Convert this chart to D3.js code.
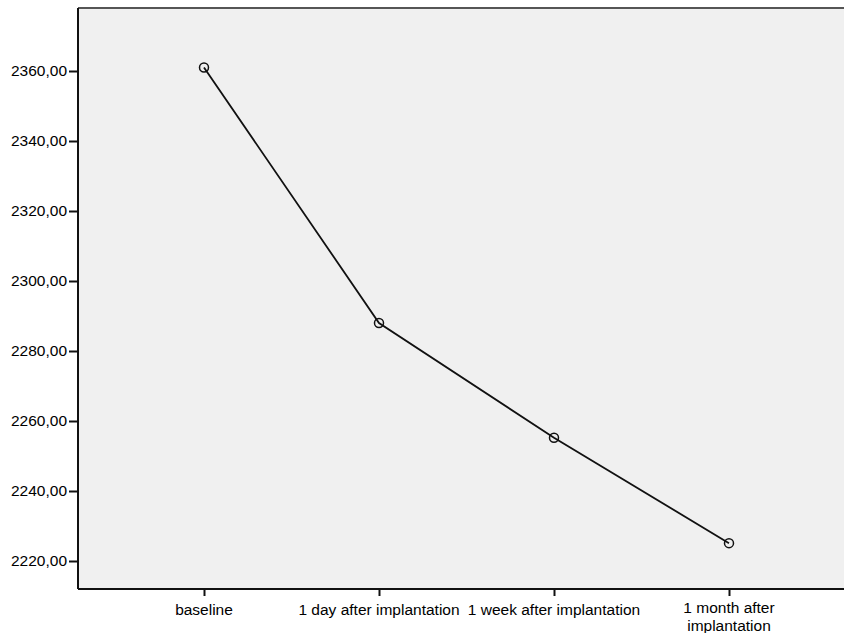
<!DOCTYPE html>
<html>
<head>
<meta charset="utf-8">
<script src="https://cdn.jsdelivr.net/npm/d3@7"></script>
<style>
  body { margin: 0; background: #fff; }
  svg { display: block; font-family: "Liberation Sans", Arial, sans-serif; }
</style>
</head>
<body>
<svg id="chart"></svg>
<script>
// Data: mean value at each time point
const categories = ["baseline", "1 day after implantation", "1 week after implantation", "1 month after implantation"];
const values = [2361, 2288, 2255.2, 2225.1];
// Tick labels as shown (last one wraps onto two lines)
const tickLabels = [["baseline"], ["1 day after implantation"], ["1 week after implantation"], ["1 month after", "implantation"]];
const yTicks = [2220, 2240, 2260, 2280, 2300, 2320, 2340, 2360];

const W = 844, H = 633;
const plot = { left: 78, top: 8, right: 855, bottom: 589 };

const svg = d3.select("#chart").attr("width", W).attr("height", H);

const x = d3.scalePoint().domain(categories).range([plot.left, plot.right]).padding(0.72);
const y = d3.scaleLinear().domain([2212, 2378]).range([plot.bottom, plot.top]);

// Plot background
svg.append("rect")
    .attr("x", plot.left).attr("y", plot.top)
    .attr("width", plot.right - plot.left).attr("height", plot.bottom - plot.top)
    .attr("fill", "#f0f0f0");

// Top frame line
svg.append("line")
    .attr("x1", plot.left).attr("x2", plot.right)
    .attr("y1", plot.top).attr("y2", plot.top)
    .attr("stroke", "#555").attr("stroke-width", 2);

// Y axis
const yAxis = svg.append("g")
    .attr("transform", `translate(${plot.left},0)`)
    .call(d3.axisLeft(y).tickValues(yTicks).tickSize(9).tickPadding(2)
        .tickFormat(d => d3.format(".2f")(d).replace(".", ",")));
yAxis.select(".domain").attr("stroke", "#111").attr("stroke-width", 2)
    .attr("d", `M0,${plot.top}V${plot.bottom}`);
yAxis.selectAll(".tick line").attr("stroke", "#111").attr("stroke-width", 2);
yAxis.selectAll(".tick text").attr("font-size", 15.5).attr("fill", "#000")
    .attr("font-family", "Liberation Sans, Arial, sans-serif");

// X axis
const xAxis = svg.append("g")
    .attr("transform", `translate(0,${plot.bottom})`)
    .call(d3.axisBottom(x).tickSize(7).tickFormat(""));
xAxis.select(".domain").attr("stroke", "#111").attr("stroke-width", 2)
    .attr("d", `M${plot.left},0H${plot.right}`);
xAxis.selectAll(".tick line").attr("stroke", "#111").attr("stroke-width", 2);

// Category labels; wrapped labels start a little higher so both lines fit
const xl = svg.append("g").selectAll("text")
    .data(categories)
    .enter().append("text")
    .attr("x", d => x(d))
    .attr("y", (d, i) => plot.bottom + (tickLabels[i].length > 1 ? 24 : 26))
    .attr("text-anchor", "middle")
    .attr("font-size", 15.5)
    .attr("fill", "#000");
xl.each(function(d, i) {
    const t = d3.select(this);
    tickLabels[i].forEach((line, j) => {
        t.append("tspan").attr("x", x(d)).attr("dy", j === 0 ? 0 : 17.5).text(line);
    });
});

// Line
const line = d3.line().x((d, i) => x(categories[i])).y(d => y(d));
svg.append("path")
    .datum(values)
    .attr("d", line)
    .attr("fill", "none")
    .attr("stroke", "#111")
    .attr("stroke-width", 1.8);

// Markers
svg.selectAll(".marker")
    .data(values)
    .enter().append("circle")
    .attr("class", "marker")
    .attr("cx", (d, i) => x(categories[i]))
    .attr("cy", d => y(d))
    .attr("r", 4.5)
    .attr("fill", "none")
    .attr("stroke", "#111")
    .attr("stroke-width", 1.5);
</script>
</body>
</html>
